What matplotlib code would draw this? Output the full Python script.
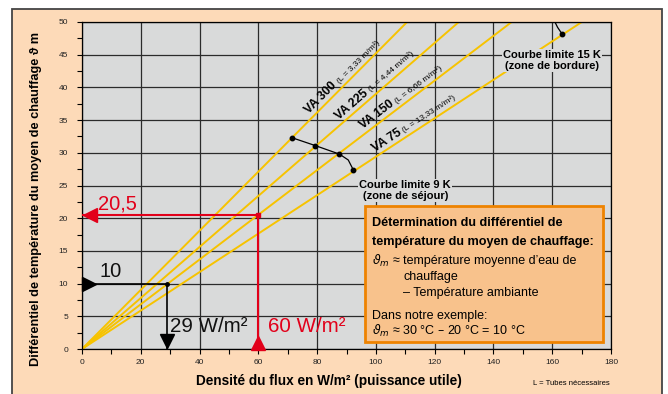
import math
import matplotlib
matplotlib.use("Agg")
import matplotlib.pyplot as plt
from matplotlib.patches import Rectangle
from matplotlib.transforms import offset_copy

plt.rcParams['font.family'] = ['Liberation Sans', 'DejaVu Sans']

# pipe spacing lines: name, label, slope (K per W/m2)
line_names = ['VA 300', 'VA 225', 'VA 150', 'VA 75']
line_notes = ['(L = 3,33 m/m²)', '(L = 4,44 m/m²)', '(L = 6,66 m/m²)', '(L = 13,33 m/m²)']
line_slopes = [0.452, 0.390, 0.342, 0.294]
label_x = [78.5, 88.5, 96.5, 100.5]

# limit curves
curve_9k_x = [71.5, 79.4, 87.6, 90.6, 92.3]
curve_9k_y = [32.3, 31.1, 29.8, 28.9, 27.4]
dots_9k_x = [71.5, 79.4, 87.6, 92.3]
dots_9k_y = [32.3, 31.1, 29.8, 27.4]
curve_15k_x = [163.3, 161.8, 160.6]
curve_15k_y = [48.2, 49.2, 50.3]

# worked examples
ex_black = (29, 10)
ex_red = (60, 20.5)

x_ticks = list(range(0, 181, 20))
y_ticks = list(range(0, 51, 5))

gold = '#F7C300'
red = '#E2001A'
grid_c = '#2b2b2b'
bg = '#D9DADA'
peach = '#FDDAB8'

fig = plt.figure(figsize=(6.68, 3.94), dpi=100, facecolor='white')
fig.patches.append(Rectangle((12 / 668, -0.05), 650 / 668, 385.5 / 394 + 0.05,
                             transform=fig.transFigure, facecolor=peach,
                             edgecolor='#444444', lw=1.3, zorder=-5))
ax = fig.add_axes([82 / 668, 45 / 394, 529 / 668, 327 / 394])
ax.set_facecolor(bg)
ax.set_xlim(0, 180)
ax.set_ylim(0, 50)
ax.set_xticks(x_ticks)
ax.set_yticks(y_ticks)
ax.set_xticks(range(10, 180, 20), minor=True)
ax.set_yticks([v + 2.5 for v in y_ticks[:-1]], minor=True)
ax.tick_params(which='both', direction='out', length=3.5, width=0.8,
               labelsize=6, labelcolor='#222222')
ax.tick_params(axis='x', pad=4)
ax.tick_params(axis='y', pad=6.5)
ax.grid(True, which='major', color=grid_c, lw=0.9)
ax.set_axisbelow(True)
for sp in ax.spines.values():
    sp.set_color('black')
    sp.set_linewidth(0.9)

# sloped lines
for s in line_slopes:
    ax.plot([0, 180], [0, 180 * s], color=gold, lw=1.4, zorder=2)

# labels along the lines
renderer = fig.canvas.get_renderer()
d = 3.5
for name, note, s, xb in zip(line_names, line_notes, line_slopes, label_x):
    p0 = ax.transData.transform((0, 0))
    p1 = ax.transData.transform((100, 100 * s))
    a = math.atan2(p1[1] - p0[1], p1[0] - p0[0])
    ang = math.degrees(a)
    ca, sa = math.cos(a), math.sin(a)
    t = ax.annotate(name, xy=(xb, s * xb), xytext=(-sa * d, ca * d),
                    textcoords='offset points', rotation=ang,
                    rotation_mode='anchor', ha='left', va='baseline',
                    fontsize=8.8, fontweight='bold', zorder=4)
    w, h, _ = renderer.get_text_width_height_descent(
        name, t.get_fontproperties(), ismath=False)
    w = w * 72 / fig.dpi + 2
    ax.annotate(note, xy=(xb, s * xb), xytext=(w * ca - sa * d, w * sa + ca * d),
                textcoords='offset points', rotation=ang,
                rotation_mode='anchor', ha='left', va='baseline',
                fontsize=6, zorder=4)

# limit curves
ax.plot(curve_9k_x, curve_9k_y, color='black', lw=0.9, zorder=3)
ax.plot(dots_9k_x, dots_9k_y, 'o', color='black', ms=3.2, zorder=3)
ax.plot(curve_15k_x, curve_15k_y, color='black', lw=0.9, zorder=3)
ax.plot(curve_15k_x[:1], curve_15k_y[:1], 'o', color='black', ms=3.2, zorder=3)
ax.text(110, 24.2, 'Courbe limite 9 K\n(zone de séjour)', ha='center', va='center',
        fontsize=8, fontweight='bold', linespacing=1.1, zorder=5,
        bbox=dict(facecolor=bg, edgecolor='none', pad=1))
ax.text(159.9, 44.1, 'Courbe limite 15 K\n(zone de bordure)', ha='center', va='center',
        fontsize=8, fontweight='bold', linespacing=1.1, zorder=5,
        bbox=dict(facecolor=bg, edgecolor='none', pad=1))

# black example 29 W/m2 -> 10 K
bx, by = ex_black
ax.plot([0, bx, bx], [by, by, 0], color='black', lw=1.2, zorder=3)
ax.plot([bx], [by], 'o', color='black', ms=2.5, zorder=4)
ax.plot([0], [by], '>', color='black', ms=9.5, zorder=4, clip_on=False,
        transform=offset_copy(ax.transData, fig=fig, x=6.5, y=0, units='dots'))
ax.plot([bx], [0], 'v', color='black', ms=9.5, zorder=4, clip_on=False,
        transform=offset_copy(ax.transData, fig=fig, x=0, y=8.5, units='dots'))
ax.text(5.8, 11.9, '10', fontsize=14.5, va='center', ha='left', color='#111111')
ax.text(30, 3.5, '29 W/m²', fontsize=14.8, va='center', ha='left', color='#111111')

# red example 60 W/m2 -> 20,5 K
rx, ry = ex_red
ax.plot([0, rx, rx], [ry, ry, 0], color=red, lw=1.5, zorder=3)
ax.plot([rx], [ry], 's', color=red, ms=3.5, zorder=4)
ax.plot([0], [ry], '<', color=red, ms=10, zorder=4, clip_on=False,
        transform=offset_copy(ax.transData, fig=fig, x=8, y=0, units='dots'))
ax.plot([rx], [0], '^', color=red, ms=10, zorder=4, clip_on=False,
        transform=offset_copy(ax.transData, fig=fig, x=0, y=6, units='dots'))
ax.text(5.4, 22.1, '20,5', fontsize=14.5, va='center', ha='left', color=red)
ax.text(63.3, 3.5, '60 W/m²', fontsize=14.8, va='center', ha='left', color=red)

# info box
ax.add_patch(Rectangle((96.3, 1.1), 81, 20.7, facecolor='#F8C28C',
                       edgecolor='#EE8300', lw=2, zorder=6))
bx0, bx1 = 98.7, 109.3
ax.text(bx0, 19.2, 'Détermination du différentiel de', fontsize=9.1,
        fontweight='bold', va='center', zorder=7)
ax.text(bx0, 16.3, 'température du moyen de chauffage:', fontsize=9.1,
        fontweight='bold', va='center', zorder=7)
ax.text(bx0, 13.4, r'$\vartheta_m$ ≈', fontsize=9, va='center', zorder=7)
ax.text(bx1, 13.4, "température moyenne d’eau de", fontsize=9, va='center', zorder=7)
ax.text(bx1, 11.0, 'chauffage', fontsize=9, va='center', zorder=7)
ax.text(bx1, 8.5, '– Température ambiante', fontsize=9, va='center', zorder=7)
ax.text(bx0, 5.0, 'Dans notre exemple:', fontsize=9, va='center', zorder=7)
ax.text(bx0, 2.7, r'$\vartheta_m$ ≈ 30 °C – 20 °C = 10 °C', fontsize=9,
        va='center', zorder=7)

# axis titles
ax.text(0.467, -0.098, 'Densité du flux en W/m² (puissance utile)', transform=ax.transAxes,
        ha='center', va='center', fontsize=9.8, fontweight='bold')
ax.text(-0.087, 0.459, 'Différentiel de température du moyen de chauffage ϑ m',
        transform=ax.transAxes, rotation=90, ha='center', va='center',
        fontsize=9.2, fontweight='bold')
ax.text(0.998, -0.104, 'L = Tubes nécessaires', transform=ax.transAxes,
        ha='right', va='center', fontsize=5.5)

fig.savefig('out.png', dpi=100, facecolor='white')
